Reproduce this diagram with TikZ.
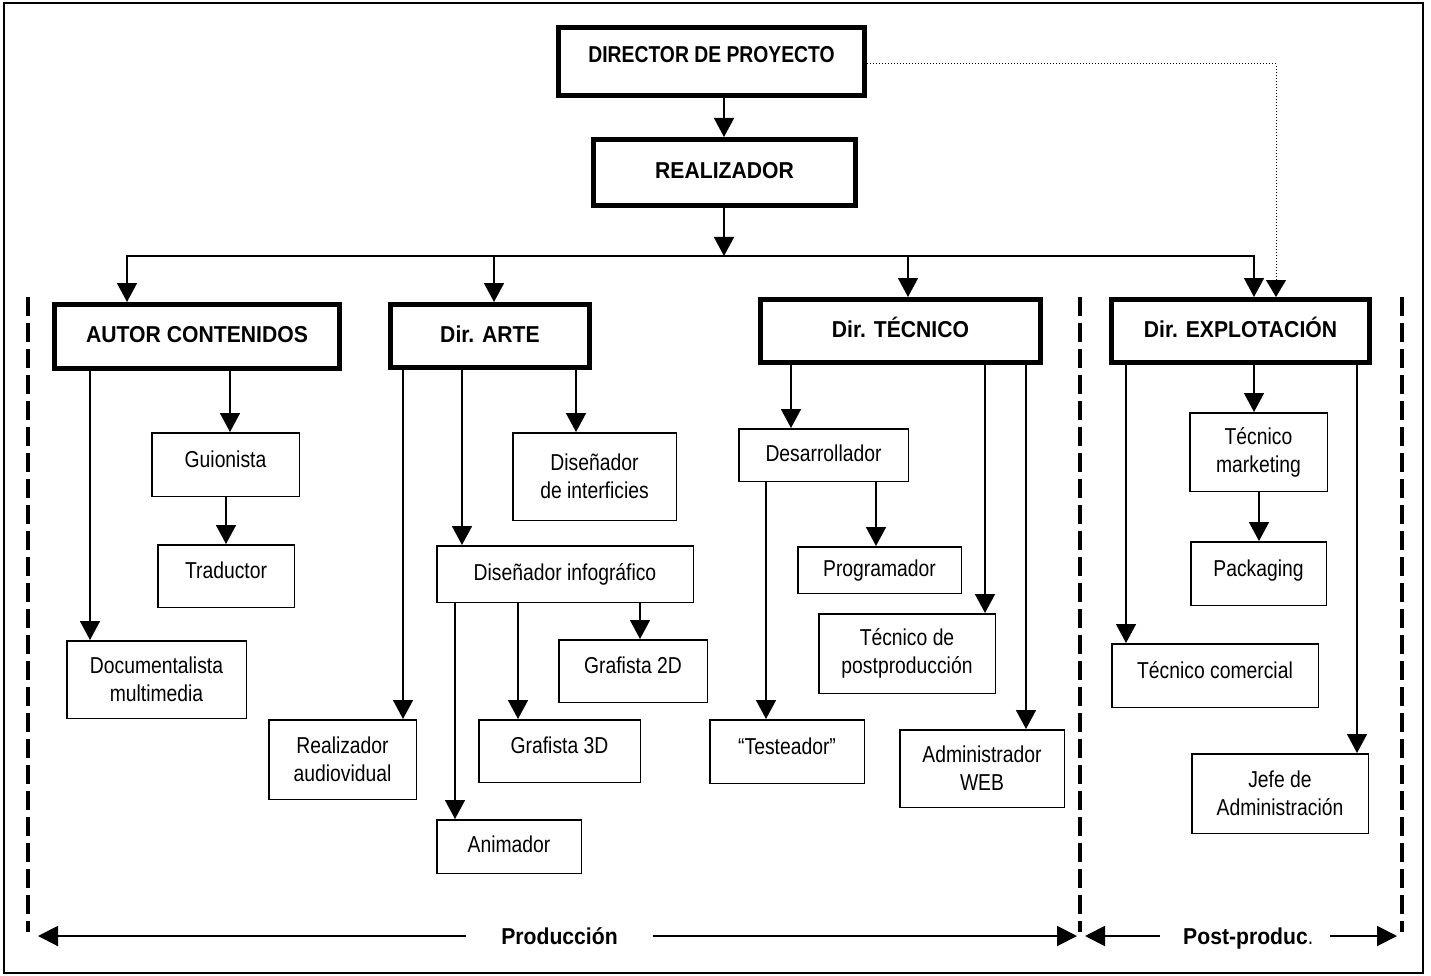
\documentclass[tikz,border=0pt]{standalone}
\usepackage{fontspec}
\setmainfont{Liberation Sans}[FakeStretch=0.84]
\newfontfamily\headfont{Liberation Sans}[FakeStretch=0.92]
\usetikzlibrary{arrows.meta,positioning}

\begin{document}
\begin{tikzpicture}[x=1pt,y=-1pt,
font=\fontsize{23}{28}\selectfont,
cargo/.style={draw,line width=5pt,inner sep=0pt,text height=17pt,text depth=5pt,
  font=\fontsize{23}{28}\selectfont\headfont\bfseries},
puesto/.style={draw,line width=1.5pt,inner sep=0pt,align=center},
uno/.style={text height=17pt,text depth=5pt},
alto/.style={text height=17pt,text depth=12pt},
flecha/.style={line width=1.6pt,-{Triangle[length=19pt,width=20pt]}},
punteada/.style={line width=1pt,dotted,-{Triangle[length=17pt,width=20pt]}},
fase/.style={line width=4pt,dash pattern=on 19pt off 7pt},
rango/.style={line width=2pt,-{Triangle[length=20pt,width=20pt]}},
etapa/.style={inner ysep=0pt,text height=17pt,text depth=0pt,
  font=\fontsize{23}{28}\selectfont\headfont\bfseries}]
\useasboundingbox (0,0) rectangle (1431,976);
\draw[line width=2pt] (4,3) rectangle (1423,973);

% direccion
\node[cargo,text depth=14pt,font=\fontsize{23}{28}\selectfont\bfseries,
  minimum width=306pt,minimum height=68pt] (dir) at (711.5,61.5) {DIRECTOR DE PROYECTO};
\node[cargo,minimum width=262pt,minimum height=66pt] (real) at (724.5,172.5) {REALIZADOR};
\node[cargo,minimum width=285pt,minimum height=64pt] (autor) at (197,336.5) {AUTOR CONTENIDOS};
\node[cargo,minimum width=199pt,minimum height=63pt] (arte) at (490,336) {Dir. ARTE};
\node[cargo,minimum width=280pt,minimum height=63pt] (tec) at (900.5,331) {Dir. TÉCNICO};
\node[cargo,minimum width=258pt,minimum height=63pt] (expl) at (1240.5,331) {Dir. EXPLOTACIÓN};

% contenidos
\node[puesto,alto,minimum width=147.5pt,minimum height=63.5pt] (guion) at (225.5,464.5) {Guionista};
\node[puesto,alto,minimum width=136.5pt,minimum height=62.5pt] (trad) at (226,576) {Traductor};
\node[puesto,minimum width=179.5pt,minimum height=77.5pt] (docu) at (156.5,679.5) {Documentalista\\multimedia};

% arte
\node[puesto,minimum width=147.5pt,minimum height=79.5pt] (realav) at (342.5,759.5) {Realizador\\audiovidual};
\node[puesto,minimum width=163.5pt,minimum height=87.5pt] (disint) at (594.5,476.5) {Diseñador\\de interficies};
\node[puesto,uno,minimum width=256.5pt,minimum height=56.5pt] (disinf) at (565,574) {Diseñador infográfico};
\node[puesto,uno,minimum width=144.5pt,minimum height=53.5pt] (anim) at (509,846.5) {Animador};
\node[puesto,alto,minimum width=161.5pt,minimum height=62.5pt] (graf3) at (559.5,751) {Grafista 3D};
\node[puesto,alto,minimum width=148.5pt,minimum height=62.5pt] (graf2) at (633,671) {Grafista 2D};

% tecnico
\node[puesto,uno,minimum width=169.5pt,minimum height=52.5pt] (desa) at (823.5,455) {Desarrollador};
\node[puesto,alto,minimum width=154.5pt,minimum height=63.5pt] (test) at (787,751.5) {“Testeador”};
\node[puesto,uno,minimum width=163.5pt,minimum height=46.5pt] (prog) at (879.5,570) {Programador};
\node[puesto,minimum width=176.5pt,minimum height=79.5pt] (tpost) at (907,653.5) {Técnico de\\postproducción};
\node[puesto,minimum width=164.5pt,minimum height=77.5pt] (admin) at (982,768.5) {Administrador\\WEB};

% explotacion
\node[puesto,minimum width=137.5pt,minimum height=78.5pt] (tmark) at (1258.5,452) {Técnico\\marketing};
\node[puesto,alto,minimum width=135.5pt,minimum height=63.5pt] (pack) at (1258.5,573.5) {Packaging};
\node[puesto,alto,minimum width=206.5pt,minimum height=63.5pt] (tcom) at (1215,675.5) {Técnico comercial};
\node[puesto,minimum width=176.5pt,minimum height=79.5pt] (jefe) at (1280,793.5) {Jefe de\\Administración};

% conexiones
\coordinate (bus) at (724,256);
\draw[flecha] (724,0 |- dir.south) -- (724,0 |- real.north);
\draw[flecha] (real.south -| bus) -- (bus);
\draw[flecha] (bus) -| (127,0 |- autor.north);
\draw[flecha] (bus) -| (1254,0 |- expl.north);
\draw[flecha] (494,0 |- bus) -- (494,0 |- arte.north);
\draw[flecha] (908,0 |- bus) -- (908,0 |- tec.north);
\draw[punteada] ([yshift=-2.5pt]dir.east) -| (1276,0 |- expl.north);

\draw[flecha] (230,0 |- autor.south) -- (230,0 |- guion.north);
\draw[flecha] (226,0 |- guion.south) -- (226,0 |- trad.north);
\draw[flecha] (90,0 |- autor.south) -- (90,0 |- docu.north);

\draw[flecha] (403,0 |- arte.south) -- (403,0 |- realav.north);
\draw[flecha] (462,0 |- arte.south) -- (462,0 |- disinf.north);
\draw[flecha] (576,0 |- arte.south) -- (576,0 |- disint.north);
\draw[flecha] (455,0 |- disinf.south) -- (455,0 |- anim.north);
\draw[flecha] (518,0 |- disinf.south) -- (518,0 |- graf3.north);
\draw[flecha] (640,0 |- disinf.south) -- (640,0 |- graf2.north);

\draw[flecha] (791,0 |- tec.south) -- (791,0 |- desa.north);
\draw[flecha] (766,0 |- desa.south) -- (766,0 |- test.north);
\draw[flecha] (876,0 |- desa.south) -- (876,0 |- prog.north);
\draw[flecha] (985,0 |- tec.south) -- (985,0 |- tpost.north);
\draw[flecha] (1026,0 |- tec.south) -- (1026,0 |- admin.north);

\draw[flecha] (1254,0 |- expl.south) -- (1254,0 |- tmark.north);
\draw[flecha] (1259,0 |- tmark.south) -- (1259,0 |- pack.north);
\draw[flecha] (1126,0 |- expl.south) -- (1126,0 |- tcom.north);
\draw[flecha] (1357,0 |- expl.south) -- (1357,0 |- jefe.north);

% fases
\draw[fase] (28,297) -- (28,932);
\draw[fase] (1080,297) -- (1080,932);
\draw[fase] (1402,297) -- (1402,932);

\coordinate (pl) at (38,936);
\coordinate (pr) at (1077,936);
\coordinate (ql) at (1085,936);
\coordinate (qm) at (1330,936);
\coordinate (qr) at (1397,936);
\node[etapa,inner xsep=0pt,minimum width=187pt] (prod) at (559.5,936) {Producción};
\node[etapa,anchor=west,inner xsep=23pt] (post) at (1160,936) {Post-produc\normalfont.};
\draw[rango] (prod.west) -- (pl);
\draw[rango] (prod.east) -- (pr);
\draw[rango] (post.west) -- (ql);
\draw[rango] (qm) -- (qr);
\end{tikzpicture}
\end{document}
